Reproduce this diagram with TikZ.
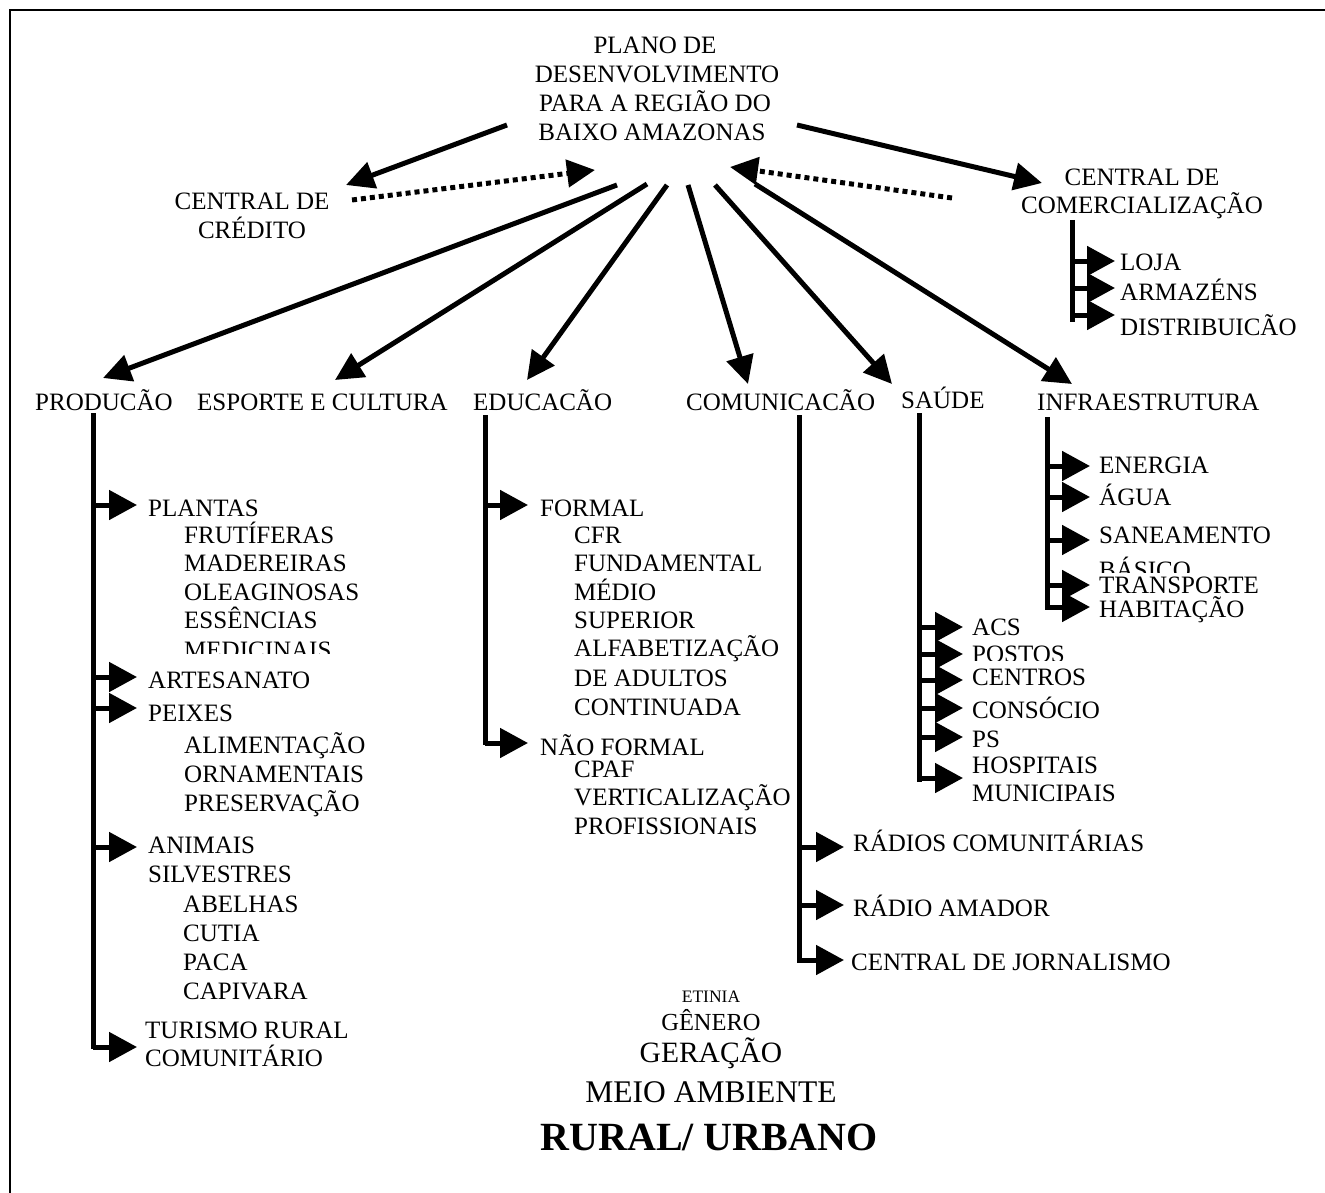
\documentclass[tikz,border=0pt]{standalone}
\usepackage{fontspec}
\setmainfont{Liberation Serif}
\usetikzlibrary{arrows.meta}
\newcommand\bodyfont{\fontsize{25}{28}\selectfont}
\begin{document}
\begin{tikzpicture}[x=1pt,y=-1pt,
  txt/.style={anchor=base west, inner sep=0pt, font=\bodyfont},
  ctxt/.style={anchor=base, inner sep=0pt, font=\bodyfont},
  conn/.style={line width=5pt, -{Triangle[length=28pt,width=27pt]}},
  dotconn/.style={line width=5pt, dash pattern=on 5pt off 4pt, -{Triangle[length=28pt,width=27pt]}},
  ladder/.style={line width=5pt},
  twig/.style={line width=5pt, -{Triangle[length=28pt,width=29pt]}},
  frameline/.style={line width=2.2pt}]
\useasboundingbox (0,0) rectangle (1325,1193);
\draw[frameline] (10,1193) -- (10,10) -- (1325,10);

% title
\node[ctxt] (t1) at (655,54) {PLANO DE};
\node[ctxt] (t2) at (657,83) {DESENVOLVIMENTO};
\node[ctxt] (t3) at (655,112) {PARA A REGIÃO DO};
\node[ctxt] (t4) at (652,141) {BAIXO AMAZONAS};

% centrals
\node[ctxt] (cc1) at (252,210) {CENTRAL DE};
\node[ctxt] (cc2) at (252,238) {CRÉDITO};
\node[ctxt] (cm1) at (1142,186) {CENTRAL DE};
\node[ctxt] (cm2) at (1142,214) {COMERCIALIZAÇÃO};

% top connectors
\coordinate (aCs) at (507,125); \coordinate (aCe) at (346,185);
\coordinate (dCs) at (352,200); \coordinate (dCe) at (595,170);
\coordinate (aMs) at (797,125); \coordinate (aMe) at (1042,183);
\coordinate (dMs) at (952,198); \coordinate (dMe) at (730,167);
\draw[conn] (aCs) -- (aCe);
\draw[dotconn] (dCs) -- (dCe);
\draw[conn] (aMs) -- (aMe);
\draw[dotconn] (dMs) -- (dMe);

% comercializacao ladder
\coordinate (cmTop) at (1072,220); \coordinate (cmBot) at (1072,322);
\draw[ladder] (cmTop) -- (cmBot);
\node[txt] (loja) at (1120,270) {LOJA};
\node[txt] (arm) at (1120,300) {ARMAZÉNS};
\node[txt] (dist) at (1120,335) {DISTRIBUICÃO};
\coordinate (lojaA) at (1072,261); \coordinate (lojaT) at (1115,261);
\coordinate (armA) at (1072,288); \coordinate (armT) at (1115,288);
\coordinate (distA) at (1072,315); \coordinate (distT) at (1115,315);
\draw[twig] (lojaA) -- (lojaT);
\draw[twig] (armA) -- (armT);
\draw[twig] (distA) -- (distT);

% categories
\node[txt] (prod) at (35,410) {PRODUCÃO};
\node[txt] (esp) at (197,410) {ESPORTE E CULTURA};
\node[txt] (edu) at (473,410) {EDUCACÃO};
\node[txt] (com) at (686,410) {COMUNICACÃO};
\node[txt] (sau) at (901,408) {SAÚDE};
\node[txt] (inf) at (1037,410) {INFRAESTRUTURA};

% fan
\coordinate (fPs) at (617,185); \coordinate (fPe) at (103,378);
\coordinate (fEs) at (647,184); \coordinate (fEe) at (335,380);
\coordinate (fDs) at (667,185); \coordinate (fDe) at (527,380);
\coordinate (fCs) at (688,185); \coordinate (fCe) at (748,384);
\coordinate (fSs) at (715,185); \coordinate (fSe) at (892,384);
\coordinate (fIs) at (755,184); \coordinate (fIe) at (1072,384);
\draw[conn] (fPs) -- (fPe);
\draw[conn] (fEs) -- (fEe);
\draw[conn] (fDs) -- (fDe);
\draw[conn] (fCs) -- (fCe);
\draw[conn] (fSs) -- (fSe);
\draw[conn] (fIs) -- (fIe);

% producao ladder
\coordinate (pTop) at (93,413); \coordinate (pBot) at (93,1049);
\draw[ladder] (pTop) -- (pBot);
\foreach \y/\n in {505/p1,677/p2,708/p3,847/p4,1047/p5}{
  \coordinate (\n A) at (93,\y); \coordinate (\n T) at (137,\y);
  \draw[twig] (\n A) -- (\n T);
}
\node[txt] (plantas) at (148,516) {PLANTAS};
\node[txt] (fru) at (184,543) {FRUTÍFERAS};
\node[txt] (mad) at (184,571) {MADEREIRAS};
\node[txt] (ole) at (184,600) {OLEAGINOSAS};
\node[txt] (ess) at (184,628) {ESSÊNCIAS};
\begin{scope}
\clip (150,630) rectangle (420,653);
\node[txt] (med) at (184,658) {MEDICINAIS};
\end{scope}
\node[txt] (art) at (148,688) {ARTESANATO};
\node[txt] (pei) at (148,721) {PEIXES};
\node[txt] (ali) at (184,753) {ALIMENTAÇÃO};
\node[txt] (orn) at (184,782) {ORNAMENTAIS};
\node[txt] (pre) at (184,811) {PRESERVAÇÃO};
\node[txt] (ani) at (148,853) {ANIMAIS};
\node[txt] (sil) at (148,882) {SILVESTRES};
\node[txt] (abe) at (183,912) {ABELHAS};
\node[txt] (cut) at (183,941) {CUTIA};
\node[txt] (pac) at (183,970) {PACA};
\node[txt] (cap) at (183,999) {CAPIVARA};
\node[txt] (tur) at (145,1038) {TURISMO RURAL};
\node[txt] (comu) at (145,1066) {COMUNITÁRIO};

% educacao ladder
\coordinate (eTop) at (485,415); \coordinate (eBot) at (485,745);
\draw[ladder] (eTop) -- (eBot);
\foreach \y/\n in {505/e1,743/e2}{
  \coordinate (\n A) at (485,\y); \coordinate (\n T) at (528,\y);
  \draw[twig] (\n A) -- (\n T);
}
\node[txt] (for) at (540,516) {FORMAL};
\node[txt] (cfr) at (574,543) {CFR};
\node[txt] (fun) at (574,571) {FUNDAMENTAL};
\node[txt] (med2) at (574,600) {MÉDIO};
\node[txt] (sup) at (574,628) {SUPERIOR};
\node[txt] (alf) at (574,656) {ALFABETIZAÇÃO};
\node[txt] (dea) at (574,686) {DE ADULTOS};
\node[txt] (con) at (574,715) {CONTINUADA};
\node[txt] (nfo) at (540,755) {NÃO FORMAL};
\node[txt] (cpa) at (574,777) {CPAF};
\node[txt] (ver) at (574,805) {VERTICALIZAÇÃO};
\node[txt] (pro) at (574,834) {PROFISSIONAIS};

% comunicacao ladder
\coordinate (cTop) at (799,415); \coordinate (cBot) at (799,963);
\draw[ladder] (cTop) -- (cBot);
\foreach \y/\n in {847/c1,905/c2,960/c3}{
  \coordinate (\n A) at (799,\y); \coordinate (\n T) at (844,\y);
  \draw[twig] (\n A) -- (\n T);
}
\node[txt] (rad) at (853,851) {RÁDIOS COMUNITÁRIAS};
\node[txt] (ram) at (853,916) {RÁDIO AMADOR};
\node[txt] (cjo) at (851,970) {CENTRAL DE JORNALISMO};

% saude ladder
\coordinate (sTop) at (919,413); \coordinate (sBot) at (919,782);
\draw[ladder] (sTop) -- (sBot);
\foreach \y/\n in {627/s1,654/s2,680/s3,708/s4,737/s5,778/s6}{
  \coordinate (\n A) at (919,\y); \coordinate (\n T) at (963,\y);
  \draw[twig] (\n A) -- (\n T);
}
\node[txt] (acs) at (972,635) {ACS};
\begin{scope}
\clip (965,640) rectangle (1150,660);
\node[txt] (pos) at (972,662) {POSTOS};
\end{scope}
\node[txt] (cen) at (972,685) {CENTROS};
\node[txt] (cns) at (972,718) {CONSÓCIO};
\node[txt] (ps) at (972,747) {PS};
\node[txt] (hos) at (972,773) {HOSPITAIS};
\node[txt] (mun) at (972,801) {MUNICIPAIS};

% infra ladder
\coordinate (iTop) at (1047,417); \coordinate (iBot) at (1047,610);
\draw[ladder] (iTop) -- (iBot);
\foreach \y/\n in {466/i1,497/i2,540/i3,585/i4,607/i5}{
  \coordinate (\n A) at (1047,\y); \coordinate (\n T) at (1090,\y);
  \draw[twig] (\n A) -- (\n T);
}
\node[txt] (ene) at (1099,473) {ENERGIA};
\node[txt] (agu) at (1099,505) {ÁGUA};
\node[txt] (san) at (1099,543) {SANEAMENTO};
\begin{scope}
\clip (1095,545) rectangle (1300,572);
\node[txt] (bas) at (1099,578) {BÁSICO};
\end{scope}
\node[txt] (tra) at (1099,593) {TRANSPORTE};
\node[txt] (hab) at (1099,617) {HABITAÇÃO};

% bottom
\node[anchor=base, inner sep=0pt, font=\fontsize{17.5}{20}\selectfont] (eti) at (711,1002) {ETINIA};
\node[anchor=base, inner sep=0pt, font=\fontsize{24.5}{28}\selectfont] (gen) at (711,1030) {GÊNERO};
\node[anchor=base, inner sep=0pt, font=\fontsize{29.5}{34}\selectfont] (ger) at (711,1062) {GERAÇÃO};
\node[anchor=base, inner sep=0pt, font=\fontsize{31.5}{36}\selectfont] (mei) at (711,1102) {MEIO AMBIENTE};
\node[anchor=base, inner sep=0pt, font=\fontsize{40}{46}\selectfont\bfseries] (rur) at (709,1150) {RURAL/ URBANO};
\end{tikzpicture}
\end{document}
